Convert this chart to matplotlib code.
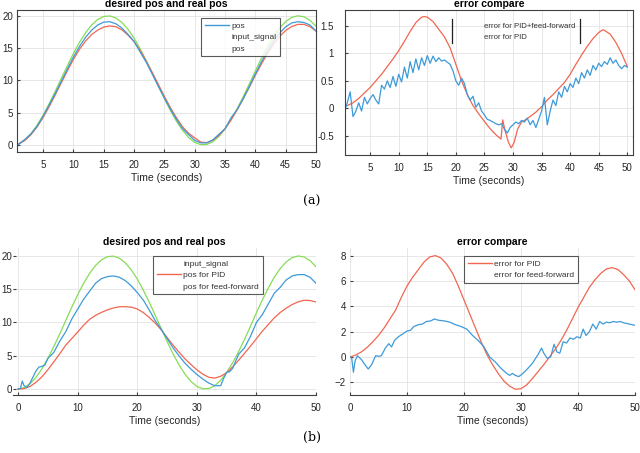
import numpy as np
import matplotlib.pyplot as plt
from matplotlib.lines import Line2D

plt.rcParams['font.family'] = ['Liberation Sans', 'DejaVu Sans']

# === DATA ===

# input signal (same reference in both experiments), sampled every second
t_sec = list(range(0, 51))
input_signal = [0.0, 0.2, 0.79, 1.75, 3.03, 4.60, 6.38, 8.30, 10.29, 12.27,
                14.16, 15.89, 17.37, 18.57, 19.42, 19.90, 19.98, 19.67, 18.97, 17.91,
                16.54, 14.90, 13.07, 11.12, 9.13, 7.16, 5.31, 3.65, 2.25, 1.14,
                0.40, 0.03, 0.07, 0.49, 1.31, 2.46, 3.92, 5.61, 7.47, 9.43,
                11.46, 13.40, 15.20, 16.80, 18.11, 19.11, 19.75, 20.00, 19.85, 19.30,
                18.39]

# (a) positions
pos_a_blue = [0.0, 0.1, 0.85, 1.70, 2.88, 4.42, 6.18, 7.95, 9.84, 11.77,
              13.61, 15.24, 16.65, 17.77, 18.57, 19.02, 19.08, 18.77, 18.10, 17.13,
              16.04, 14.40, 12.82, 10.97, 9.08, 7.28, 5.53, 3.93, 2.53, 1.59,
              0.70, 0.31, 0.32, 0.79, 1.66, 2.51, 4.22, 5.46, 7.17, 9.03,
              11.01, 12.85, 14.55, 16.10, 17.33, 18.29, 18.90, 19.08, 18.97, 18.58,
              17.64]
pos_a_red = [0.0, 0.14, 0.69, 1.58, 2.77, 4.24, 5.92, 7.73, 9.61, 11.47,
             13.24, 14.81, 16.09, 17.09, 17.79, 18.25, 18.43, 18.31, 17.82, 17.01,
             15.99, 14.62, 12.99, 11.22, 9.38, 7.51, 5.76, 4.19, 2.80, 1.79,
             1.10, 0.43, 0.35, 0.73, 1.47, 2.51, 3.86, 5.44, 7.15, 8.93,
             10.78, 12.54, 14.17, 15.62, 16.81, 17.72, 18.34, 18.67, 18.67, 18.32,
             17.66]

# (a) errors
err_a_ff = [-0.05, 0.10, 0.30, -0.15, -0.05, 0.10, -0.05, 0.20, 0.08, 0.18,
            0.25, 0.15, 0.08, 0.42, 0.35, 0.50, 0.38, 0.58, 0.40, 0.62,
            0.48, 0.75, 0.55, 0.85, 0.65, 0.90, 0.70, 0.92, 0.78, 0.96,
            0.82, 0.95, 0.85, 0.92, 0.86, 0.88, 0.84, 0.80, 0.68, 0.50,
            0.42, 0.55, 0.45, 0.25, 0.15, 0.22, 0.02, 0.10, -0.05, -0.12,
            -0.20, -0.22, -0.25, -0.28, -0.30, -0.28, -0.38, -0.45, -0.35, -0.30,
            -0.25, -0.28, -0.22, -0.25, -0.18, -0.30, -0.22, -0.35, -0.20, -0.05,
            0.20, -0.30, -0.05, 0.15, 0.05, 0.30, 0.20, 0.40, 0.30, 0.45,
            0.38, 0.55, 0.45, 0.65, 0.55, 0.70, 0.60, 0.78, 0.70, 0.82,
            0.76, 0.85, 0.80, 0.92, 0.82, 0.88, 0.78, 0.72, 0.78, 0.75]
t_err_a_ff = np.linspace(0.5, 50, len(err_a_ff))

t_err_a_pid = [0.6, 1, 2, 3, 4, 5, 6, 7, 8, 9, 10, 11, 12, 13, 14, 14.5,
               15, 16, 17, 18, 19, 20, 21, 22, 23, 24, 25, 26, 27,
               27.9, 28.2, 28.6, 29.2, 29.7, 30.2, 30.8, 31.5,
               32, 33, 34, 35, 36, 37, 38, 39, 40, 41, 42, 43, 44, 45,
               45.7, 46, 47, 48, 49, 50]
err_a_pid = [0.03, 0.05, 0.10, 0.18, 0.28, 0.38, 0.50, 0.62, 0.76, 0.90, 1.05, 1.22, 1.40, 1.56, 1.66, 1.67,
             1.66, 1.58, 1.44, 1.30, 1.10, 0.80, 0.50, 0.25, 0.05, -0.10, -0.24, -0.37, -0.48,
             -0.56, -0.21, -0.40, -0.62, -0.72, -0.62, -0.38, -0.25,
             -0.22, -0.15, -0.07, 0.03, 0.15, 0.25, 0.36, 0.47, 0.62, 0.80, 0.97, 1.13, 1.27, 1.38,
             1.43, 1.42, 1.35, 1.20, 1.00, 0.76]

# (b) positions
pos_b_pid = [0.0, 0.05, 0.39, 1.00, 1.83, 2.90, 4.08, 5.30, 6.59, 7.57,
             8.56, 9.59, 10.47, 11.07, 11.52, 11.90, 12.18, 12.37, 12.37, 12.31,
             12.04, 11.50, 10.77, 9.92, 8.93, 7.76, 6.61, 5.55, 4.55, 3.69,
             2.90, 2.23, 1.77, 1.64, 1.91, 2.46, 3.32, 4.31, 5.37, 6.43,
             7.56, 8.70, 9.70, 10.70, 11.51, 12.16, 12.70, 13.10, 13.35, 13.30,
             13.09]
t_pos_b_ff = [0, 0.4, 0.7, 1.0, 1.5, 2, 2.5, 3, 3.5, 4, 4.5,
              5, 6, 7, 8, 9, 10, 11, 12, 13, 14, 15, 16, 17, 18, 19,
              20, 21, 22, 23, 24, 25, 26, 27, 28, 29, 30, 31, 32, 33, 34,
              34.5, 35, 35.5, 36,
              37, 38, 39, 40, 41, 42, 43, 44, 45, 46, 47, 48, 49, 50]
pos_b_ff = [0, 0.1, 1.2, 0.5, 0.2, 0.9, 1.8, 2.7, 3.3, 3.4, 3.6,
            4.6, 5.5, 7.2, 8.6, 10.5, 12.0, 13.5, 14.7, 15.9, 16.6, 16.9, 17.0, 16.8, 16.3, 15.5,
            14.5, 13.4, 11.9, 10.3, 9.0, 7.6, 6.2, 5.0, 3.9, 3.0, 2.2, 1.5, 0.9, 0.5, 0.5,
            1.6, 2.5, 2.6, 3.1,
            5.2, 6.2, 7.9, 10.0, 11.2, 12.8, 14.4, 15.3, 16.4, 17.0, 17.2, 17.2, 16.8, 15.9]

# (b) errors
err_b_pid = [0.0, 0.15, 0.4, 0.75, 1.2, 1.7, 2.3, 3.0, 3.7, 4.7,
             5.6, 6.3, 6.9, 7.5, 7.9, 8.0, 7.8, 7.3, 6.6, 5.6,
             4.5, 3.4, 2.3, 1.2, 0.2, -0.6, -1.3, -1.9, -2.3, -2.55,
             -2.5, -2.2, -1.7, -1.15, -0.6, 0.0, 0.6, 1.3, 2.1, 3.0,
             3.9, 4.7, 5.5, 6.1, 6.6, 6.95, 7.05, 6.9, 6.5, 6.0,
             5.3]
t_err_b_ff = [0, 0.3, 0.6, 0.9, 1.3, 2.0, 2.6, 3.2, 3.8, 4.5,
              5.0, 5.5, 6.2, 6.8, 7.3, 7.8, 8.5, 9.2, 10.0, 10.6,
              11.2, 12.0, 12.7, 13.4, 14.2, 14.8, 15.5, 16.5, 17.5, 18.5,
              19.5, 20.5, 21.5, 22.5, 23.5, 24.5, 25.5, 26.5, 27.5, 28.0,
              28.5, 29.0, 29.6, 30.2, 31.0, 32.0, 33.0, 33.6, 34.0, 34.6,
              35.2, 35.8, 36.3, 36.8, 37.4, 38.0, 38.6, 39.2, 39.8, 40.4,
              40.9, 41.4, 42.0, 42.6, 43.2, 43.8, 44.4, 45.0, 45.6, 46.2,
              46.8, 47.4, 48.0, 49.0, 50.0]
err_b_ff = [0.0, -0.1, -1.2, -0.3, 0.1, -0.2, -0.6, -0.95, -0.6, 0.1,
            0.05, 0.1, 0.7, 1.05, 0.8, 1.3, 1.6, 1.8, 2.05, 2.1,
            2.4, 2.55, 2.6, 2.8, 2.85, 3.0, 2.9, 2.85, 2.75, 2.55,
            2.4, 2.2, 1.7, 1.3, 0.8, 0.0, -0.4, -0.9, -1.3, -1.45,
            -1.3, -1.45, -1.55, -1.35, -1.0, -0.5, 0.2, 0.7, 0.3, -0.1,
            0.0, 1.0, 0.4, 0.3, 1.2, 1.1, 1.5, 1.4, 1.6, 1.5,
            2.2, 1.7, 2.0, 2.6, 2.2, 2.8, 2.6, 2.75, 2.7, 2.8,
            2.75, 2.8, 2.7, 2.6, 2.5]

BLUE = '#3d9ad9'
RED = '#f26650'
GREEN = '#86dc56'
GRID = '#e3e3e3'
TXT = '#262626'

fig = plt.figure(figsize=(6.4, 4.53), dpi=100)


def px_axes(l, r, t, b):
    return fig.add_axes([l / 640, 1 - b / 453, (r - l) / 640, (b - t) / 453])


def style(ax, full_box=True):
    ax.grid(True, color=GRID, linewidth=0.6)
    ax.set_axisbelow(True)
    ax.tick_params(direction='in', length=2.5, labelsize=7, colors='#404040',
                   labelcolor=TXT, pad=6)
    ax.tick_params(axis='y', pad=3)
    for side, sp in ax.spines.items():
        sp.set_color('#404040')
        sp.set_linewidth(0.8)
        if not full_box and side != 'bottom':
            sp.set_visible(False)
    ax.set_xlabel('Time (seconds)', fontsize=7.5, color=TXT, labelpad=2)
    ax.set_title(ax.get_title(), fontsize=7.5, weight='bold', pad=2)


def legend(ax, handles, labels, x, y, hlen=2.9, size=6):
    leg = ax.legend(handles, labels, loc='upper left', bbox_to_anchor=(x, y),
                    borderaxespad=0, fontsize=size, frameon=True, fancybox=False,
                    handlelength=hlen, handletextpad=0.3, labelspacing=0.45,
                    borderpad=0.45)
    leg.get_frame().set_edgecolor('#303030')
    leg.get_frame().set_linewidth(0.8)
    for txt in leg.get_texts():
        txt.set_color('#333333')
    return leg


blank = Line2D([], [], color='none')

# --- (a) left ---
ax1 = px_axes(17, 316, 10, 152)
ax1.plot(t_sec, input_signal, color=GREEN, lw=0.9)
ax1.plot(t_sec, pos_a_red, color=RED, lw=0.9)
ax1.plot(t_sec, pos_a_blue, color=BLUE, lw=0.9)
ax1.set_xlim(0.7, 50)
ax1.set_ylim(-1.1, 20.9)
ax1.set_xticks(range(5, 51, 5))
ax1.set_yticks(range(0, 21, 5))
ax1.set_title('desired pos and real pos')
style(ax1)
legend(ax1, [Line2D([], [], color=BLUE, lw=1), blank, blank],
       ['pos', 'input_signal', 'pos'], 0.615, 0.944)

# --- (a) right ---
ax2 = px_axes(345, 633, 10, 155)
ax2.plot(t_err_a_pid, err_a_pid, color=RED, lw=0.9)
ax2.plot(t_err_a_ff, err_a_ff, color=BLUE, lw=0.9)
ax2.set_xlim(0.6, 51)
ax2.set_ylim(-0.85, 1.79)
ax2.set_xticks(range(5, 51, 5))
ax2.set_yticks([-0.5, 0, 0.5, 1, 1.5])
ax2.set_yticklabels(['-0.5', '0', '0.5', '1', '1.5'])
ax2.set_title('error compare')
style(ax2)
ax2.tick_params(axis='y', pad=8)
leg2 = legend(ax2, [blank, blank], ['error for PID+feed-forward', 'error for PID'],
              0.462, 0.938, hlen=0, size=5.6)
leg2.set_frame_on(False)
for xv in (0.372, 0.817):
    ax2.plot([xv, xv], [0.77, 0.938], transform=ax2.transAxes, color='#202020',
             lw=0.9, zorder=10)

# --- (b) left ---
ax3 = px_axes(13, 316, 248, 395)
ax3.plot(t_sec, input_signal, color=GREEN, lw=0.9)
ax3.plot(t_sec, pos_b_pid, color=RED, lw=0.9)
ax3.plot(t_pos_b_ff, pos_b_ff, color=BLUE, lw=0.9)
ax3.set_xlim(-0.85, 50)
ax3.set_ylim(-0.9, 21.2)
ax3.set_xticks(range(0, 51, 10))
ax3.set_yticks(range(0, 21, 5))
ax3.set_title('desired pos and real pos')
style(ax3, full_box=False)
ax3.tick_params(axis='y', pad=0.5)
legend(ax3, [blank, Line2D([], [], color=RED, lw=1), blank],
       ['input_signal', 'pos for PID', 'pos for feed-forward'], 0.462, 0.946)

# --- (b) right ---
ax4 = px_axes(350, 635, 248, 395)
ax4.plot(t_sec, err_b_pid, color=RED, lw=0.9)
ax4.plot(t_err_b_ff, err_b_ff, color=BLUE, lw=0.9)
ax4.set_xlim(0, 50)
ax4.set_ylim(-3.0, 8.6)
ax4.set_xticks(range(0, 51, 10))
ax4.set_yticks(range(-2, 9, 2))
ax4.set_title('error compare')
style(ax4, full_box=False)
legend(ax4, [Line2D([], [], color=RED, lw=1), blank],
       ['error for PID', 'error for feed-forward'], 0.40, 0.946)

# captions
fig.text(312 / 640, 1 - 201 / 453, '(a)', family='DejaVu Serif', fontsize=9,
         ha='center', va='center')
fig.text(312 / 640, 1 - 437 / 453, '(b)', family='DejaVu Serif', fontsize=9,
         ha='center', va='center')

fig.savefig('out.png', dpi=100, facecolor='white')
